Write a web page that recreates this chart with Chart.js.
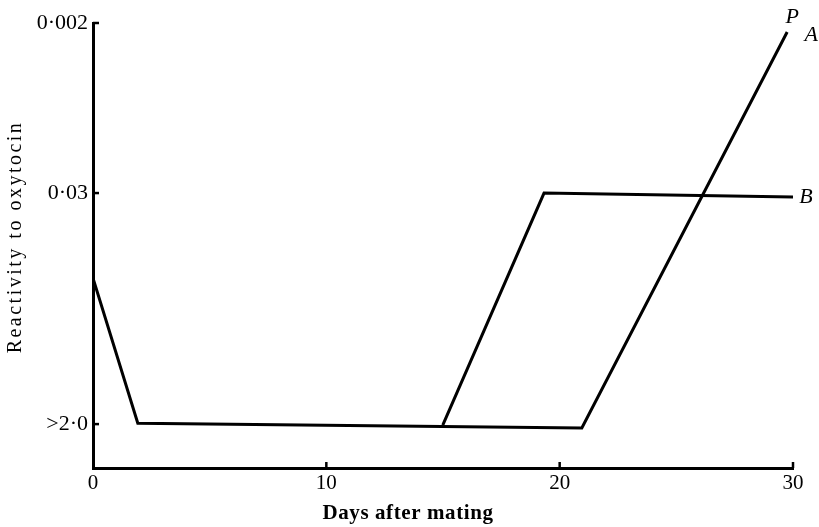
<!DOCTYPE html>
<html>
<head>
<meta charset="utf-8">
<script src="https://cdn.jsdelivr.net/npm/chart.js@4.4.1/dist/chart.umd.min.js"></script>
<style>
  html, body { margin: 0; padding: 0; background: #fff; }
  #wrap { width: 819px; height: 527px; position: relative; }
</style>
</head>
<body>
<div id="wrap"><canvas id="ch"></canvas></div>
<script>
// Data (y = position on the reactivity scale, in units of the >2·0 -> 0·03 gap)
const daysA = [0, 1.92, 20.95, 29.75];
const levelA = [0.632, 0.004, -0.017, 1.697];
const daysB = [14.99, 19.33, 30];
const levelB = [-0.004, 1.0, 0.983];

const yTickValues = [0, 1, 1.736];
const yTickLabels = ['>2·0', '0·03', '0·002'];
const xTickValues = [0, 10, 20, 30];

const serif = '"Liberation Serif", "Times New Roman", serif';

function pts(xs, ys) { return xs.map((x, i) => ({ x, y: ys[i] })); }

// inward ticks, curve labels, axis titles
const extras = {
    id: 'extras',
    afterDraw(chart) {
        const { ctx, scales: { x, y } } = chart;
        ctx.save();
        ctx.strokeStyle = '#000';
        ctx.lineWidth = 2.5;
        yTickValues.forEach(v => {
            const py = y.getPixelForValue(v);
            ctx.beginPath(); ctx.moveTo(x.left, py); ctx.lineTo(x.left + 6, py); ctx.stroke();
        });
        xTickValues.slice(1).forEach(v => {
            const px = x.getPixelForValue(v);
            ctx.beginPath(); ctx.moveTo(px, y.bottom); ctx.lineTo(px, y.bottom - 6); ctx.stroke();
        });

        ctx.fillStyle = '#000';
        ctx.textAlign = 'center';
        ctx.textBaseline = 'middle';
        ctx.font = 'italic 22px ' + serif;
        const aEnd = { x: x.getPixelForValue(daysA[3]), y: y.getPixelForValue(levelA[3]) };
        const bEnd = { x: x.getPixelForValue(daysB[2]), y: y.getPixelForValue(levelB[2]) };
        ctx.fillText('P', aEnd.x + 5, aEnd.y - 15);
        ctx.fillText('A', aEnd.x + 24, aEnd.y + 3);
        ctx.fillText('B', bEnd.x + 13, bEnd.y);

        ctx.font = 'bold 21px ' + serif;
        ctx.letterSpacing = '0.6px';
        ctx.fillText('Days after mating', 408, 514);

        ctx.font = '20px ' + serif;
        ctx.letterSpacing = '2.5px';
        ctx.translate(16, 237);
        ctx.rotate(-Math.PI / 2);
        ctx.fillText('Reactivity to oxytocin', 0, 0);
        ctx.restore();
    }
};

new Chart(document.getElementById('ch'), {
    type: 'line',
    data: {
        datasets: [
            { label: 'A', data: pts(daysA, levelA) },
            { label: 'B', data: pts(daysB, levelB) }
        ]
    },
    options: {
        responsive: true,
        maintainAspectRatio: false,
        animation: false,
        layout: { padding: { left: 0, top: 23, right: 26, bottom: 0 } },
        elements: {
            line: { borderColor: '#000', borderWidth: 3, tension: 0, borderJoinStyle: 'miter' },
            point: { radius: 0 }
        },
        plugins: { legend: { display: false }, tooltip: { enabled: false } },
        scales: {
            x: {
                type: 'linear',
                min: 0, max: 30,
                afterFit(s) { s.height = 59; },
                afterBuildTicks(s) { s.ticks = xTickValues.map(v => ({ value: v })); },
                grid: { display: false, drawTicks: false },
                border: { display: true, color: '#000', width: 3 },
                ticks: { color: '#000', padding: 3, font: { family: serif, size: 21 } }
            },
            y: {
                type: 'linear',
                min: -0.19, max: 1.736,
                afterFit(s) { s.width = 93; },
                afterBuildTicks(s) { s.ticks = yTickValues.map(v => ({ value: v })); },
                grid: { display: false, drawTicks: false },
                border: { display: true, color: '#000', width: 3 },
                ticks: {
                    color: '#000', padding: 5, font: { family: serif, size: 22 },
                    callback: v => yTickLabels[yTickValues.indexOf(v)]
                }
            }
        }
    },
    plugins: [extras]
});
</script>
</body>
</html>
